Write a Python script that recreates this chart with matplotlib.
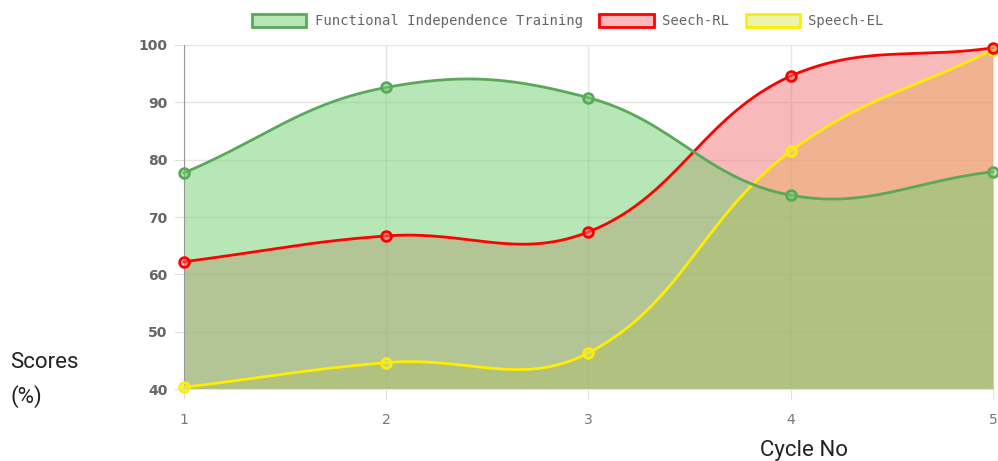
import numpy as np
import matplotlib
matplotlib.use("Agg")
import matplotlib.pyplot as plt
from matplotlib.patches import Patch

cycles = [1, 2, 3, 4, 5]
fit_scores = [77.7, 92.6, 90.8, 73.8, 77.9]
rl_scores = [62.2, 66.7, 67.4, 94.6, 99.5]
el_scores = [40.3, 44.6, 46.3, 81.5, 99.2]
series_names = ["Functional Independence Training", "Seech-RL", "Speech-EL"]

line_colors = ["#5aa85a", "#ff0000", "#ffee00"]
fill_colors = [(113/255, 209/255, 113/255, 0.5),
               (241/255, 117/255, 117/255, 0.5),
               (225/255, 228/255, 95/255, 0.5)]

YMIN, YMAX = 40, 100


def chartjs_curve(xs, ys, sx, sy, tension=0.4, n=60):
    # same bezier control points as chart.js (computed in pixel space)
    px = np.array(xs, float) * sx
    py = np.array(ys, float) * sy
    k = len(px)
    cp_prev = np.zeros((k, 2))
    cp_next = np.zeros((k, 2))
    for i in range(k):
        a = max(i - 1, 0)
        b = min(i + 1, k - 1)
        d01 = np.hypot(px[i] - px[a], py[i] - py[a])
        d12 = np.hypot(px[b] - px[i], py[b] - py[i])
        tot = d01 + d12
        s01 = d01 / tot if tot else 0
        s12 = d12 / tot if tot else 0
        dx, dy = px[b] - px[a], py[b] - py[a]
        cp_prev[i] = [px[i] - tension * s01 * dx, py[i] - tension * s01 * dy]
        cp_next[i] = [px[i] + tension * s12 * dx, py[i] + tension * s12 * dy]
    cp_prev[:, 1] = np.clip(cp_prev[:, 1], YMIN * sy, YMAX * sy)
    cp_next[:, 1] = np.clip(cp_next[:, 1], YMIN * sy, YMAX * sy)
    outx, outy = [], []
    t = np.linspace(0, 1, n)
    for i in range(k - 1):
        p0 = np.array([px[i], py[i]])
        p1 = cp_next[i]
        p2 = cp_prev[i + 1]
        p3 = np.array([px[i + 1], py[i + 1]])
        pts = ((1 - t)[:, None] ** 3 * p0 + 3 * ((1 - t) ** 2 * t)[:, None] * p1
               + 3 * ((1 - t) * t ** 2)[:, None] * p2 + (t ** 3)[:, None] * p3)
        outx.extend(pts[:, 0])
        outy.extend(pts[:, 1])
    return np.array(outx) / sx, np.array(outy) / sy


fig = plt.figure(figsize=(9.98, 4.61), dpi=100)
ax = fig.add_axes([184 / 998, 1 - 389 / 461, (993 - 184) / 998, (389 - 45) / 461])

sx = (993 - 184) / 4.0
sy = (389 - 45) / 60.0

all_series = [fit_scores, rl_scores, el_scores]
# chart.js paints the last dataset first
for i in [2, 1, 0]:
    cx, cy = chartjs_curve(cycles, all_series[i], sx, sy)
    ax.fill_between(cx, cy, YMIN, color=fill_colors[i], linewidth=0, zorder=1)

for i in [2, 1, 0]:
    vals = all_series[i]
    cx, cy = chartjs_curve(cycles, vals, sx, sy)
    ax.plot(cx, cy, color=line_colors[i], lw=2, zorder=3, clip_on=False)
    ax.plot(cycles, vals, 'o', ms=7, mfc=fill_colors[i], mec=line_colors[i],
            mew=2, zorder=4, clip_on=False)

ax.set_xlim(1, 5)
ax.set_ylim(YMIN, YMAX)
ax.set_xticks(cycles)
ax.set_yticks(np.arange(40, 101, 10))
ax.grid(True, color="#e5e5e5", lw=1, zorder=0)
ax.set_axisbelow(True)
for s in ["top", "right"]:
    ax.spines[s].set_visible(False)
ax.spines["left"].set_color("#999999")
ax.spines["bottom"].set_color("#e5e5e5")
ax.tick_params(axis="both", colors="#e0e0e0", length=7, labelcolor="#666666",
               labelsize=10, pad=5)
ax.tick_params(axis="x", labelcolor="#777777", pad=10)
for lab in ax.get_yticklabels():
    lab.set_fontweight("bold")

handles = [Patch(facecolor=fill_colors[i], edgecolor=line_colors[i], lw=2)
           for i in range(3)]
fig.legend(handles, series_names, loc="center", bbox_to_anchor=(0.569, 0.954),
           ncol=3, frameon=False, handlelength=3.9, handleheight=1.1,
           handletextpad=0.6, columnspacing=1.2,
           prop={"family": "DejaVu Sans Mono", "size": 10}, labelcolor="#666666")

label_kw = dict(fontsize=16, family="Roboto", va="center", ha="left",
                color="#222222")
fig.text(10 / 998, 1 - 362 / 461, "Scores", **label_kw)
fig.text(10 / 998, 1 - 397 / 461, "(%)", **label_kw)
fig.text(760 / 998, 1 - 450 / 461, "Cycle No", **label_kw)

fig.savefig("out.png", dpi=100)
